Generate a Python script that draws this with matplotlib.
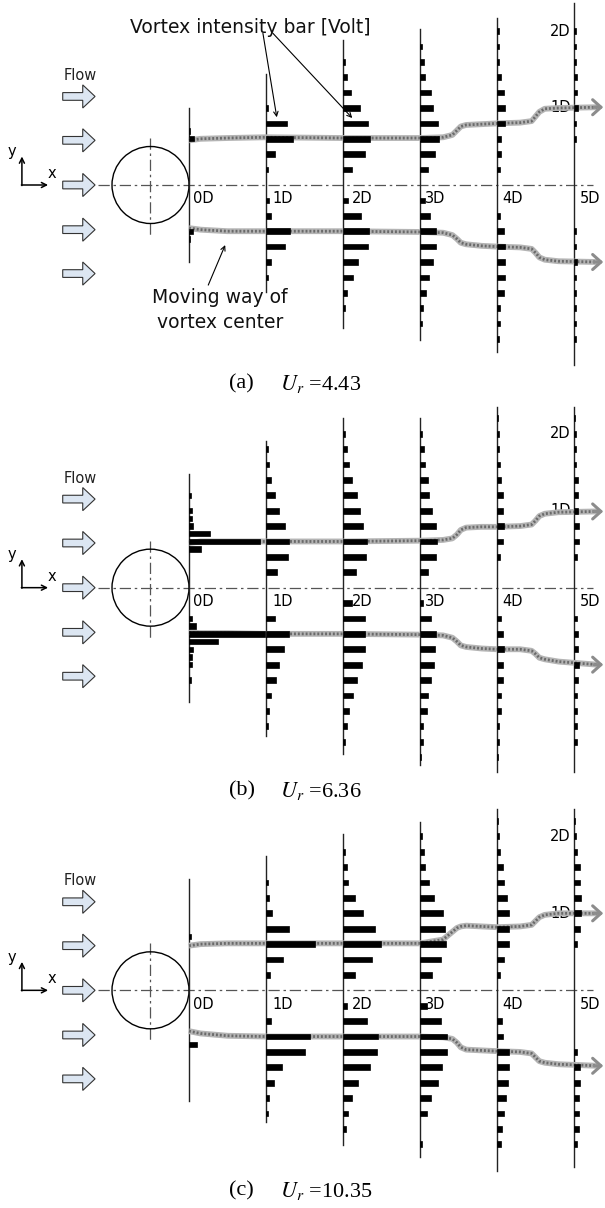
import numpy as np
import matplotlib.pyplot as plt
from matplotlib.patches import Circle, FancyArrow

plt.rcParams['font.family'] = ['DejaVu Sans']
plt.rcParams['mathtext.fontset'] = 'stix'

# ---- data ----------------------------------------------------------------
stations = [0, 1, 2, 3, 4, 5]
station_names = ['0D', '1D', '2D', '3D', '4D', '5D']
rows_0d = [0.4, 0.5, 0.6, 0.7, 0.8, 0.9, 1.0, 1.1, 1.2]          # probe rows at 0D
rows_far = [0.2, 0.4, 0.6, 0.8, 1.0, 1.2, 1.4, 1.6, 1.8, 2.0, 2.2]  # probe rows at 1D..5D

panel_tags = ['(a)', '(b)', '(c)']
ur_values = ['4.43', '6.36', '10.35']
flow_rows = [1.15, 0.58, 0.0, -0.58, -1.15]

# vortex intensity bars (read as bar length, 77 units = 1D)
a_up = [[0, 0, 5, 1, 0, 0, 0, 0, 0],
        [2, 9, 27, 21, 2, 0, 0, 0, 0, 0, 0],
        [9, 22, 27, 25, 17, 8, 4, 2, 0, 0, 0],
        [8, 15, 19, 18, 13, 11, 5, 4, 2, 0, 0],
        [3, 4, 4, 8, 8, 7, 4, 2, 2, 2, 0],
        [0, 0, 2, 2, 4, 3, 3, 2, 2, 2, 0]]
a_dn = [[0, 0, 4, 1, 0, 0, 0, 0, 0],
        [3, 5, 24, 19, 5, 2, 0, 0, 0, 0, 0],
        [5, 18, 26, 25, 15, 10, 4, 2, 0, 0, 0],
        [5, 10, 16, 16, 13, 9, 6, 3, 2, 0, 0],
        [0, 3, 7, 8, 8, 8, 7, 3, 3, 2, 0],
        [0, 0, 2, 2, 3, 2, 2, 2, 2, 2, 0]]
b_up = [[0, 12, 71, 21, 4, 3, 3, 0, 2],
        [11, 22, 23, 19, 13, 9, 5, 3, 2, 0, 0],
        [13, 23, 24, 20, 17, 14, 9, 6, 4, 2, 0],
        [8, 16, 17, 16, 12, 9, 8, 5, 4, 2, 0],
        [0, 3, 6, 7, 6, 6, 4, 3, 2, 2, 1],
        [0, 3, 5, 5, 4, 4, 4, 2, 2, 2, 1]]
b_dn = [[3, 7, 76, 29, 4, 3, 3, 0, 2],
        [0, 9, 23, 18, 13, 10, 5, 3, 2, 0, 0],
        [9, 22, 22, 22, 19, 14, 10, 6, 4, 2, 0],
        [3, 11, 16, 15, 14, 11, 8, 7, 3, 3, 1],
        [0, 4, 6, 7, 6, 6, 4, 4, 2, 2, 1],
        [0, 3, 4, 4, 5, 4, 3, 3, 3, 3, 0]]
c_up = [[0, 0, 0, 2, 0, 0, 0, 0, 0],
        [4, 17, 49, 23, 6, 3, 2, 0, 0, 0, 0],
        [12, 29, 38, 32, 20, 12, 5, 4, 2, 0, 0],
        [12, 21, 26, 25, 23, 14, 9, 5, 4, 2, 0],
        [3, 7, 12, 12, 12, 10, 7, 6, 3, 2, 1],
        [0, 0, 3, 6, 7, 7, 6, 6, 3, 2, 1]]
c_dn = [[0, 0, 0, 8, 0, 0, 0, 0, 0],
        [0, 5, 44, 39, 16, 8, 3, 2, 0, 0, 0],
        [4, 24, 35, 34, 27, 15, 9, 5, 3, 0, 0],
        [7, 21, 27, 27, 22, 18, 11, 7, 0, 2, 0],
        [0, 5, 6, 12, 12, 11, 9, 7, 5, 4, 0],
        [0, 0, 0, 3, 6, 6, 5, 5, 5, 3, 0]]

# extent of the probe traverse lines (D)
a_top = [1.0, 1.44, 1.88, 2.03, 2.17, 2.36]
a_bot = [-1.0, -1.39, -1.86, -2.01, -2.17, -2.34]
b_top = [1.48, 1.91, 2.2, 2.2, 2.35, 2.35]
b_bot = [-1.48, -1.93, -2.16, -2.3, -2.4, -2.4]
c_top = [1.45, 1.74, 2.03, 2.18, 2.35, 2.35]
c_bot = [-1.44, -1.71, -2.01, -2.16, -2.35, -2.3]

# moving way of vortex center
path_x = [0.0, 0.15, 0.5, 1.0, 2.0, 3.0, 3.3, 3.42, 3.48, 3.53, 3.6, 3.8,
          4.0, 4.3, 4.45, 4.5, 4.55, 4.62, 4.8, 5.3]
a_path_up = [0.58, 0.6, 0.61, 0.62, 0.61, 0.61, 0.62, 0.65, 0.71, 0.76, 0.78, 0.79,
             0.8, 0.81, 0.83, 0.89, 0.95, 0.99, 1.0, 1.01]
a_path_dn = [-0.56, -0.58, -0.6, -0.6, -0.6, -0.61, -0.62, -0.65, -0.7, -0.75, -0.77, -0.79,
             -0.8, -0.81, -0.83, -0.88, -0.94, -0.97, -0.99, -1.0]
b_path_up = [0.58, 0.6, 0.6, 0.6, 0.6, 0.61, 0.62, 0.64, 0.69, 0.75, 0.78, 0.79,
             0.79, 0.8, 0.82, 0.87, 0.93, 0.96, 0.98, 0.99]
b_path_dn = [-0.58, -0.59, -0.59, -0.6, -0.6, -0.61, -0.62, -0.65, -0.7, -0.75, -0.77, -0.79,
             -0.8, -0.8, -0.82, -0.86, -0.91, -0.93, -0.96, -1.0]
c_path_up = [0.58, 0.6, 0.61, 0.61, 0.61, 0.61, 0.66, 0.76, 0.81, 0.83, 0.84, 0.83,
             0.82, 0.83, 0.85, 0.9, 0.95, 0.98, 1.0, 1.0]
c_path_dn = [-0.53, -0.56, -0.59, -0.6, -0.6, -0.6, -0.61, -0.63, -0.68, -0.74, -0.77, -0.78,
             -0.79, -0.8, -0.82, -0.87, -0.92, -0.94, -0.96, -0.98]

# ---- layout --------------------------------------------------------------
PX = 77.0            # pixels per D
BAR_SCALE = 1 / PX
W, H = 605, 1208
PANEL_H = H / 3.0
X0 = 189.0           # 0D position in pixels
YC = 185.0           # centre line from top of panel

fig = plt.figure(figsize=(W / 100, H / 100), dpi=100)


def draw_bars(ax, s, rows, vals, hgt):
    vals = np.array(vals, dtype=float)
    keep = vals > 0
    ax.barh(rows[keep], vals[keep] * BAR_SCALE, height=hgt, left=s,
            color='black', ec='black', lw=0.5, zorder=4)


def draw_panel(k, up, dn, tops, bots, p_up, p_dn, cap_y, notes=False):
    ax = fig.add_axes([0, 1 - (k + 1) / 3.0, 1, 1 / 3.0])
    ax.set_xlim(-X0 / PX, (W - X0) / PX)
    ax.set_ylim(-(PANEL_H - YC) / PX, YC / PX)
    ax.axis('off')

    dashdot = (0, (9, 3, 2, 3))
    ax.plot([-1.18, 5.25], [0, 0], color='#555555', lw=0.9, ls=dashdot, zorder=1)
    ax.plot([-0.5, -0.5], [0.61, -0.68], color='#555555', lw=0.9, ls=dashdot, zorder=1)
    ax.add_patch(Circle((-0.5, 0), 0.5, fill=False, ec='black', lw=1.0, zorder=2))

    # flow arrows
    for fy in flow_rows:
        ax.add_patch(FancyArrow(-1.64, fy, 0.42, 0, width=0.1, head_width=0.3,
                                head_length=0.16, length_includes_head=True,
                                fc='#dce6f2', ec='#333333', lw=0.8, zorder=2))
    ax.text(-1.63, 1.42, 'Flow', fontsize=10.5, ha='left', va='center', color='#222222')

    # x-y icon
    arr = dict(arrowstyle='->', lw=1.1, color='black', shrinkA=0, shrinkB=0,
               mutation_scale=9)
    ax.annotate('', xy=(-2.17, 0.37), xytext=(-2.17, -0.007), arrowprops=arr)
    ax.annotate('', xy=(-1.83, 0), xytext=(-2.177, 0), arrowprops=arr)
    ax.text(-2.30, 0.43, 'y', fontsize=10.5, ha='center', va='center')
    ax.text(-1.78, 0.15, 'x', fontsize=10.5, ha='center', va='center')

    # traverse lines and labels
    lab_dx = [0.05, 0.08, 0.12, 0.07, 0.07, 0.07]
    for s, t, b, name, dx in zip(stations, tops, bots, station_names, lab_dx):
        ax.plot([s, s], [b, t], color='#222222', lw=1.0, zorder=2)
        ax.text(s + dx, -0.18, name, fontsize=10.5, ha='left', va='center', zorder=2)
    ax.text(4.96, 2.0, '2D', fontsize=10.5, ha='right', va='center', zorder=2)
    ax.text(4.96, 1.0, '1D', fontsize=10.5, ha='right', va='center', zorder=2)

    # vortex paths
    for py in (p_up, p_dn):
        ax.plot(path_x, py, color='#b4b4b4', lw=4.2, solid_capstyle='butt', zorder=3)
        ax.plot(path_x, py, color='#6a6a6a', lw=2.0, ls=(0, (0.7, 0.7)), zorder=3)
        ax.annotate('', xy=(5.38, py[-1]), xytext=(5.26, py[-1]),
                    arrowprops=dict(arrowstyle='->,head_length=0.5,head_width=0.45',
                                    color='#8c8c8c', lw=2.2, shrinkA=0, shrinkB=0,
                                    mutation_scale=12), zorder=3)

    # intensity bars
    for i, s in enumerate(stations):
        rows = np.array(rows_0d if i == 0 else rows_far)
        hgt = 0.07 if i == 0 else 0.075
        draw_bars(ax, s, rows, up[i], hgt)
        draw_bars(ax, s, -rows, dn[i], hgt)

    # caption
    ax.text(0.52, cap_y, panel_tags[k], family=['Liberation Serif', 'DejaVu Serif'],
            fontsize=16, ha='left', va='center')
    ax.text(1.18, cap_y, r'$U_r$ =' + ur_values[k], family=['Liberation Serif', 'DejaVu Serif'],
            fontsize=16, ha='left', va='center')

    if notes:
        ax.text(-0.77, 1.97, 'Vortex intensity bar [Volt]', fontsize=13.5,
                ha='left', va='baseline', color='#111111')
        thin = dict(arrowstyle='->', lw=0.8, color='black', shrinkA=0, shrinkB=0,
                    mutation_scale=8)
        ax.annotate('', xy=(1.14, 0.88), xytext=(0.96, 1.97), arrowprops=thin)
        ax.annotate('', xy=(2.12, 0.87), xytext=(1.09, 1.97), arrowprops=thin)
        ax.text(0.40, -1.53, 'Moving way of', fontsize=13.5, ha='center', va='baseline',
                color='#111111')
        ax.text(0.40, -1.86, 'vortex center', fontsize=13.5, ha='center', va='baseline',
                color='#111111')
        ax.annotate('', xy=(0.47, -0.78), xytext=(0.25, -1.30), arrowprops=thin)


draw_panel(0, a_up, a_dn, a_top, a_bot, a_path_up, a_path_dn, -2.58, notes=True)
draw_panel(1, b_up, b_dn, b_top, b_bot, b_path_up, b_path_dn, -2.64)
draw_panel(2, c_up, c_dn, c_top, c_bot, c_path_up, c_path_dn, -2.61)

fig.savefig('out.png', dpi=100)
